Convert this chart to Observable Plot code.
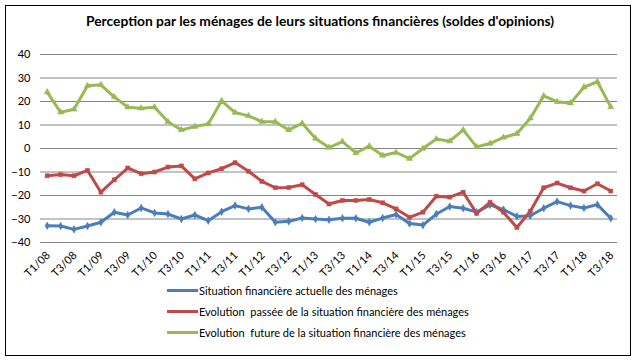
<!DOCTYPE html>
<html><head><meta charset="utf-8">
<script src="https://cdn.jsdelivr.net/npm/d3@7"></script>
<script src="https://cdn.jsdelivr.net/npm/@observablehq/plot@0.6"></script>
<style>
body{margin:0;background:#fff;font-family:Lato,"Open Sans",sans-serif;}
#frame{position:absolute;left:5px;top:5px;width:626px;height:351px;border:1px solid #000;box-sizing:border-box;}
#title{position:absolute;left:0;top:12px;width:640px;text-align:center;font-weight:bold;font-size:13.8px;color:#000;}
#chart{position:absolute;left:0;top:35px;}
#legend{position:absolute;left:167px;top:280px;font-size:11px;color:#000;}
.row{height:21px;display:flex;align-items:center;}
.sw{position:relative;width:31px;height:3px;margin-right:1px;}
</style></head>
<body>
<div id="frame"></div>
<div id="title">Perception par les ménages de leurs situations financières (soldes d'opinions)</div>
<div id="chart"></div>
<div id="legend"></div>
<script>
const quarters = [];
for (let y = 8; y <= 18; y++) for (let q = 1; q <= 4; q++) if (!(y === 18 && q === 4)) quarters.push(`T${q}/${String(y).padStart(2,"0")}`);

const actuelle = [-32.9,-33,-34.4,-33,-31.4,-27.1,-28.3,-25.3,-27.4,-27.9,-30,-28.3,-30.7,
  -26.9,-24.3,-25.7,-25,-31.4,-31,-29.6,-30,-30.3,-29.7,-29.7,-31.4,-29.6,-28.1,-31.9,
  -32.6,-27.9,-24.7,-25.4,-27.1,-24,-26,-28.9,-28.6,-25.4,-22.6,-24.3,-25.3,-23.9,-29.7];
const passee = [-11.6,-11.1,-11.6,-9.3,-18.6,-13.3,-8.3,-10.7,-10,-7.9,-7.4,-12.9,-10.4,
  -8.6,-6,-9.7,-14,-16.7,-16.6,-15.4,-19.6,-23.6,-22.1,-22.1,-21.7,-23.1,-25.7,-29.3,
  -27.1,-20.3,-20.7,-18.6,-27.6,-22.9,-27.1,-33.6,-26.7,-16.7,-14.7,-16.7,-18.1,-15,-18.1];
const future = [24,15.4,16.7,26.7,27.1,21.9,17.6,17.1,17.6,11.4,7.9,9.3,10.4,
  20.3,15.3,13.9,11.4,11.4,7.9,10.7,4.3,0.4,2.9,-1.9,1,-3,-1.7,-4.3,
  0,4,3.1,7.9,0.7,2.1,4.7,6.3,12.9,22.4,19.9,19.3,26.1,28.4,17.7];

const seriesNames = [
  "Situation financière actuelle des ménages",
  "Evolution  passée de la situation financière des ménages",
  "Evolution  future de la situation financière des ménages"
];
const seriesColors = ["#4a7ebb", "#be4b48", "#98b954"];
const seriesSymbols = ["diamond", "square", "triangle"];
const yTicks = [-40,-30,-20,-10,0,10,20,30,40];

const data = [];
[actuelle, passee, future].forEach((arr, s) => arr.forEach((v, i) => data.push({i, v, s: seriesNames[s]})));

const chart = Plot.plot({
  width: 640, height: 245,
  marginTop: 19, marginBottom: 38, marginLeft: 40, marginRight: 23,
  style: {fontFamily: "Lato, 'Open Sans', sans-serif", fontSize: "11px", color: "#000"},
  x: {type: "linear", domain: [-0.5, quarters.length - 0.5]},
  y: {domain: [-40, 40]},
  color: {domain: seriesNames, range: seriesColors},
  symbol: {domain: seriesNames, range: seriesSymbols},
  marks: [
    Plot.ruleY(yTicks, {stroke: "#868686", strokeWidth: 1}),
    Plot.axisY({ticks: yTicks, tickSize: 0, tickPadding: 10, label: null, fontSize: 11}),
    Plot.axisX({ticks: d3.range(0, quarters.length, 2), tickFormat: i => quarters[i], tickSize: 0,
      tickRotate: -45, tickPadding: 11, label: null, fontSize: 11, dx: 1}),
    Plot.line(data, {x: "i", y: "v", z: "s", stroke: "s", strokeWidth: 3, strokeLinejoin: "round"}),
    Plot.dot(data, {x: "i", y: "v", fill: "s", stroke: "s", symbol: "s", r: 2.3, strokeWidth: 0.5})
  ]
});
document.getElementById("chart").appendChild(chart);

const legend = document.getElementById("legend");
seriesNames.forEach((n, k) => {
  const row = document.createElement("div"); row.className = "row";
  const sw = document.createElement("div"); sw.className = "sw"; sw.style.background = seriesColors[k];
  row.appendChild(sw);
  const t = document.createElement("span"); t.textContent = n; t.style.whiteSpace = "pre";
  row.appendChild(t);
  legend.appendChild(row);
});
</script>
</body></html>
